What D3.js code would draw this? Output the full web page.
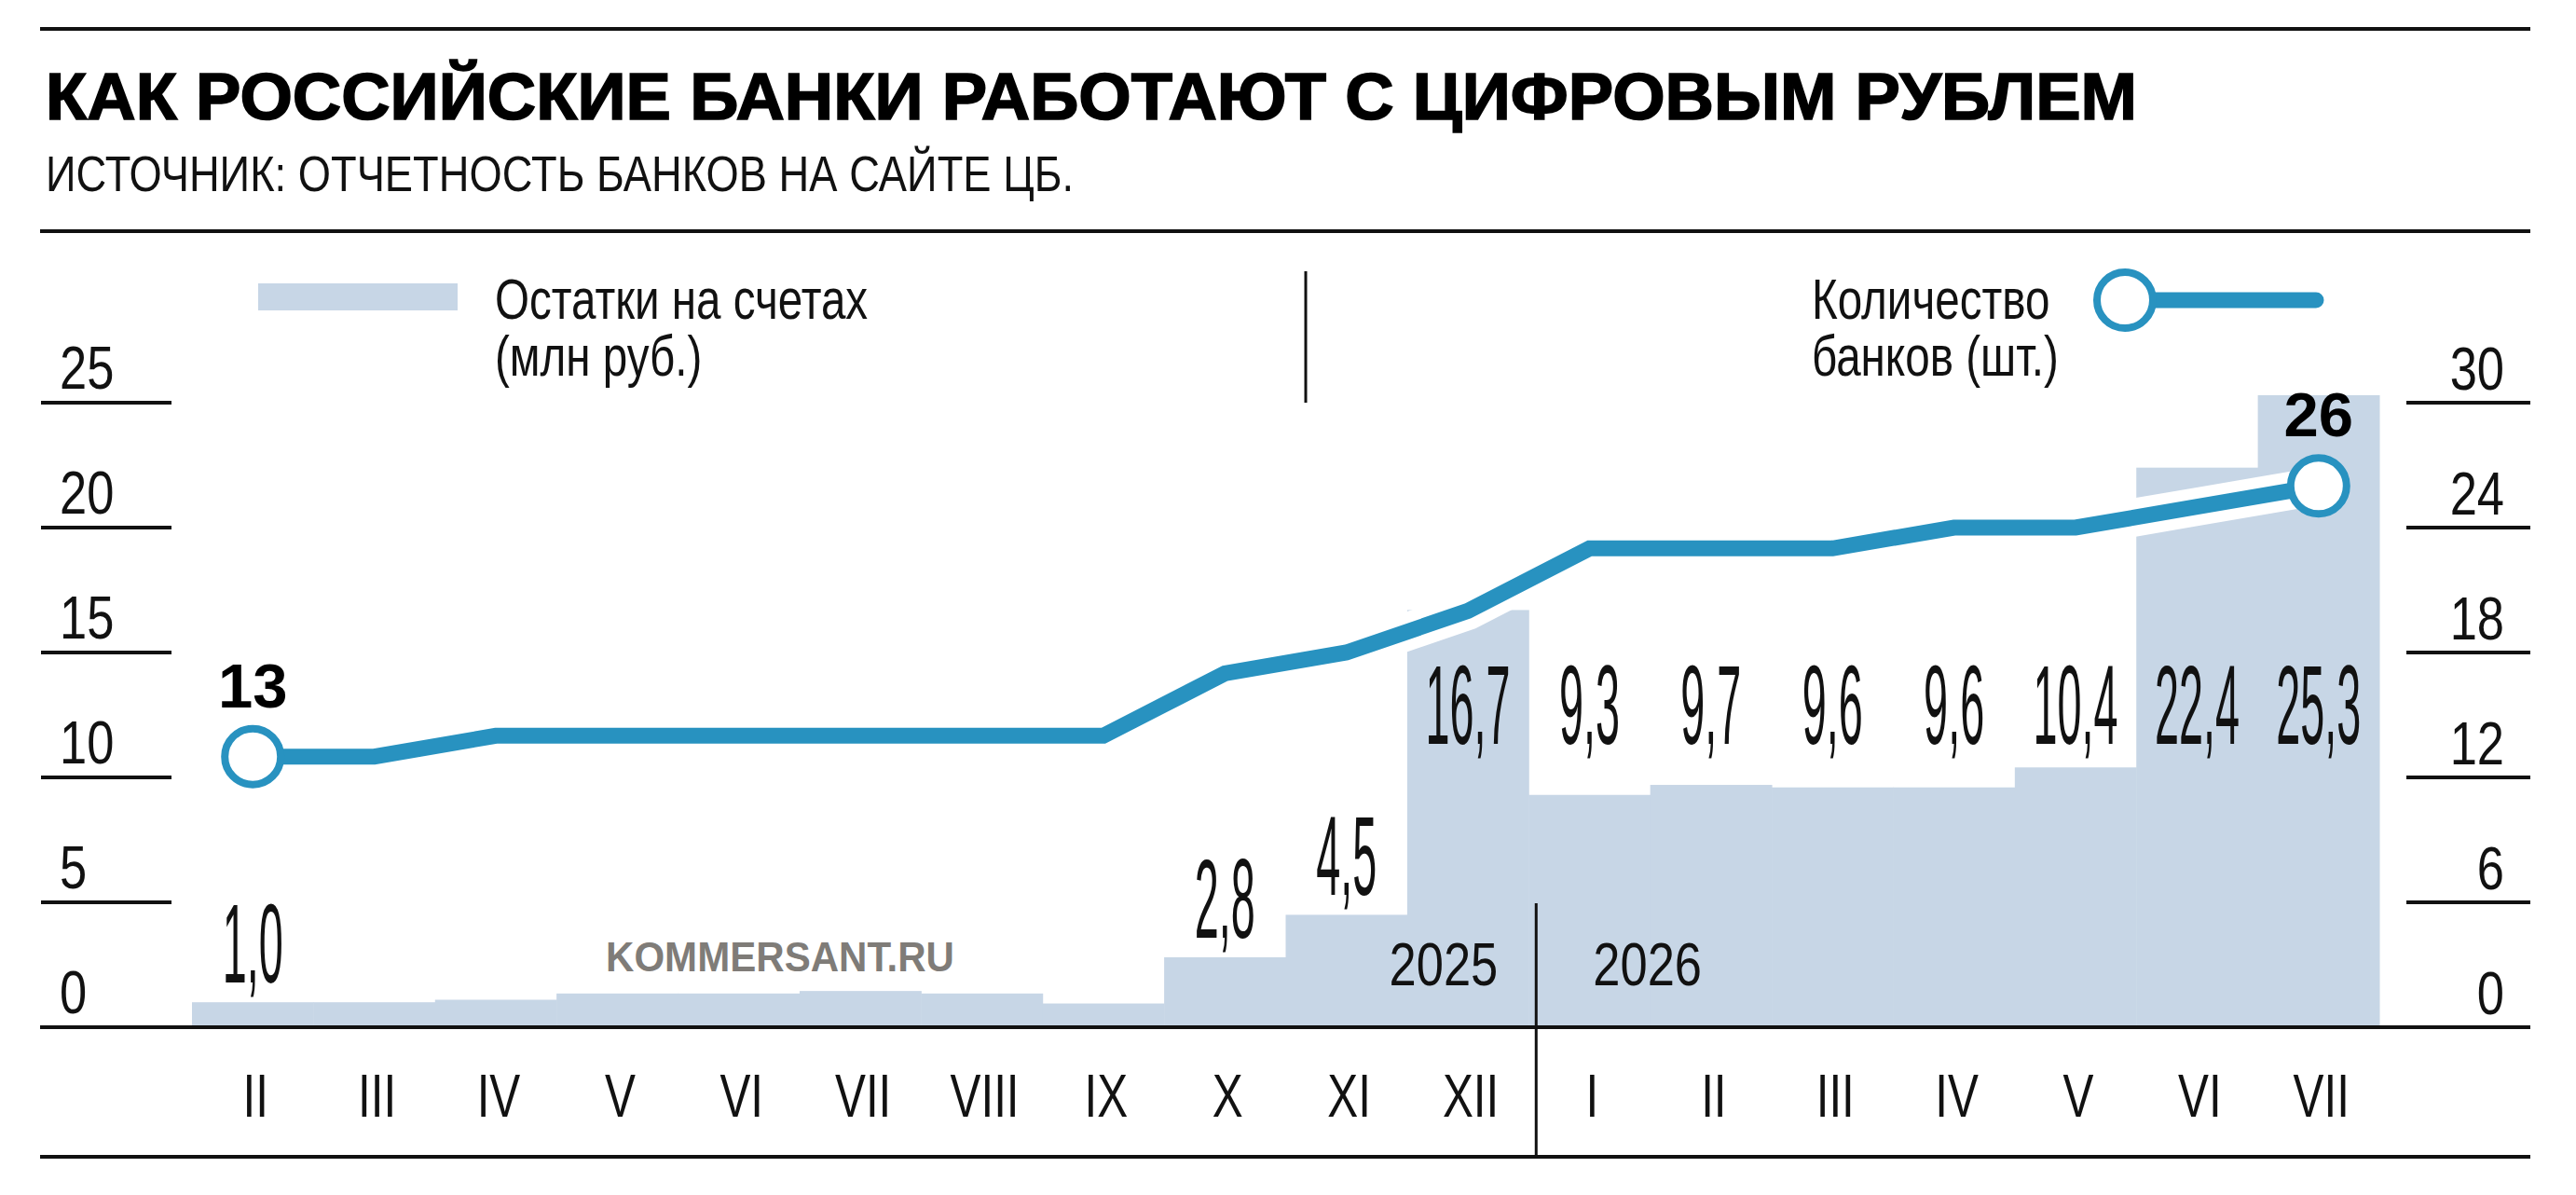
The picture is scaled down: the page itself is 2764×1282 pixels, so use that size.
<!DOCTYPE html>
<html>
<head>
<meta charset="utf-8">
<script src="https://cdn.jsdelivr.net/npm/d3@7"></script>
<style>
  body { margin: 0; background: #fff; }
  svg { display: block; font-family: 'Liberation Sans', Arial, sans-serif; }
</style>
</head>
<body>
<svg id="chart"></svg>
<script>
// data
const months = ['II','III','IV','V','VI','VII','VIII','IX','X','XI','XII','I','II','III','IV','V','VI','VII'];
const balances = [1.0, 1.0, 1.1, 1.35, 1.35, 1.45, 1.35, 0.95, 2.8, 4.5, 16.7, 9.3, 9.7, 9.6, 9.6, 10.4, 22.4, 25.3];
const balanceShown = [1,0,0,0,0,0,0,0,1,1,1,1,1,1,1,1,1,1];
const banks = [13, 13, 14, 14, 14, 14, 14, 14, 17, 18, 20, 23, 23, 23, 24, 24, 25, 26];
const leftTicks = [0, 5, 10, 15, 20, 25];
const rightTicks = [0, 6, 12, 18, 24, 30];
const years = ['2025', '2026'];

const W = 2764, H = 1282;
const BAR = '#c7d6e6', LINE = '#2892c0';

const svg = d3.select('#chart').attr('width', W).attr('height', H);

const x = d3.scaleBand().domain(d3.range(months.length)).range([206, 2553]).padding(0);
const yL = d3.scaleLinear().domain([0, 25]).range([1102, 432]);
const yR = d3.scaleLinear().domain([0, 30]).range([1102, 432]);
const cx = i => x(i) + x.bandwidth() / 2;
const comma = v => v.toFixed(1).replace('.', ',');

// condensed text: regular face squeezed horizontally
function ctext(g, tx, ty, txt, size, sx, anchor) {
  return g.append('text')
    .attr('transform', `translate(${tx},${ty}) scale(${sx},1)`)
    .attr('text-anchor', anchor || 'middle')
    .attr('font-size', size)
    .attr('fill', '#111')
    .text(txt);
}

// two-line legend caption kept in one text element
function legendText(g, tx, ty, lines) {
  const t = g.append('text')
    .attr('transform', `translate(${tx},${ty}) scale(0.78,1)`)
    .attr('font-size', 61)
    .attr('fill', '#111');
  lines.forEach((s, k) => t.append('tspan').attr('x', 0).attr('y', k * 61).text(s));
}

// rules
[31, 248, 1241].forEach(y => {
  svg.append('line').attr('x1', 43).attr('x2', 2715).attr('y1', y).attr('y2', y)
    .attr('stroke', '#111').attr('stroke-width', 4);
});

// title + source
svg.append('text').attr('x', 49).attr('y', 128)
  .attr('font-size', 70).attr('font-weight', 900).attr('fill', '#000')
  .attr('stroke', '#000').attr('stroke-width', 1.6)
  .attr('textLength', 2244).attr('lengthAdjust', 'spacingAndGlyphs')
  .text('КАК РОССИЙСКИЕ БАНКИ РАБОТАЮТ С ЦИФРОВЫМ РУБЛЕМ');
svg.append('text').attr('x', 49).attr('y', 205)
  .attr('font-size', 53).attr('fill', '#111')
  .attr('textLength', 1103).attr('lengthAdjust', 'spacingAndGlyphs')
  .text('ИСТОЧНИК: ОТЧЕТНОСТЬ БАНКОВ НА САЙТЕ ЦБ.');

// legend
const leg = svg.append('g');
leg.append('rect').attr('x', 277).attr('y', 304).attr('width', 214).attr('height', 29).attr('fill', BAR);
legendText(leg, 531, 342, ['Остатки на счетах', '(млн руб.)']);
leg.append('line').attr('x1', 1401).attr('x2', 1401).attr('y1', 291).attr('y2', 432)
  .attr('stroke', '#111').attr('stroke-width', 3);
legendText(leg, 1944, 342, ['Количество', 'банков (шт.)']);
leg.append('line').attr('x1', 2280).attr('x2', 2485).attr('y1', 322).attr('y2', 322)
  .attr('stroke', LINE).attr('stroke-width', 17).attr('stroke-linecap', 'round');
leg.append('circle').attr('cx', 2280).attr('cy', 322).attr('r', 30)
  .attr('fill', '#fff').attr('stroke', LINE).attr('stroke-width', 8);

// bars (step area)
svg.append('g').selectAll('rect')
  .data(balances)
  .join('rect')
    .attr('x', (d, i) => x(i))
    .attr('y', d => yL(d))
    .attr('width', x.bandwidth() + 0.5)
    .attr('height', d => yL(0) - yL(d))
    .attr('fill', BAR);

// watermark
svg.append('text').attr('x', 650).attr('y', 1042)
  .attr('font-size', 45).attr('font-weight', 700).attr('fill', '#7f7c78')
  .attr('textLength', 374).attr('lengthAdjust', 'spacingAndGlyphs')
  .text('KOMMERSANT.RU');

// year split
const splitX = x(11) + 8;
svg.append('line').attr('x1', splitX).attr('x2', splitX).attr('y1', 969).attr('y2', 1241)
  .attr('stroke', '#111').attr('stroke-width', 3);
ctext(svg, splitX - 41, 1057, years[0], 64, 0.82, 'end');
ctext(svg, splitX + 61, 1057, years[1], 64, 0.82, 'start');

// left axis
const axL = svg.append('g');
axL.selectAll('line').data(leftTicks.filter(t => t > 0)).join('line')
  .attr('x1', 44).attr('x2', 184).attr('y1', d => yL(d)).attr('y2', d => yL(d))
  .attr('stroke', '#111').attr('stroke-width', 4);
leftTicks.forEach(t => ctext(axL, 64, yL(t) - 15, t, 64, 0.82, 'start'));

// right axis
const axR = svg.append('g');
axR.selectAll('line').data(rightTicks.filter(t => t > 0)).join('line')
  .attr('x1', 2582).attr('x2', 2715).attr('y1', d => yR(d)).attr('y2', d => yR(d))
  .attr('stroke', '#111').attr('stroke-width', 4);
rightTicks.forEach(t => ctext(axR, 2687, yR(t) - 14, t, 64, 0.82, 'end'));

// baseline
svg.append('line').attr('x1', 43).attr('x2', 2715).attr('y1', yL(0)).attr('y2', yL(0))
  .attr('stroke', '#111').attr('stroke-width', 4);

// month labels via bottom axis
const xAxis = d3.axisBottom(x).tickSize(0).tickFormat(i => months[i]);
const xg = svg.append('g').attr('transform', 'translate(3,1198)').call(xAxis);
xg.select('.domain').remove();
xg.selectAll('text')
  .attr('y', 0).attr('dy', 0)
  .attr('font-size', 65).attr('font-family', "'Liberation Sans', Arial, sans-serif")
  .attr('fill', '#111')
  .attr('transform', 'scale(0.76,1)');

// bank count line with white casing
const line = d3.line().x((d, i) => cx(i)).y(d => yR(d));
svg.append('path').datum(banks).attr('d', line)
  .attr('fill', 'none').attr('stroke', '#fff').attr('stroke-width', 41).attr('stroke-linejoin', 'miter');
svg.append('path').datum(banks).attr('d', line)
  .attr('fill', 'none').attr('stroke', LINE).attr('stroke-width', 17).attr('stroke-linejoin', 'miter');

const ends = [0, banks.length - 1];
svg.selectAll('.end-dot').data(ends).join('circle')
  .attr('class', 'end-dot')
  .attr('cx', i => cx(i)).attr('cy', i => yR(banks[i])).attr('r', 30)
  .attr('fill', '#fff').attr('stroke', LINE).attr('stroke-width', 8);
svg.selectAll('.end-lbl').data(ends).join('text')
  .attr('class', 'end-lbl')
  .attr('x', i => cx(i)).attr('y', i => yR(banks[i]) - 53)
  .attr('text-anchor', 'middle').attr('font-size', 67).attr('font-weight', 700).attr('fill', '#000')
  .text(i => banks[i]);

// balance value labels
const vl = svg.append('g');
balances.forEach((v, i) => {
  if (!balanceShown[i]) return;
  const ty = v > 8 ? 798 : yL(v) - 21;
  ctext(vl, cx(i), ty, comma(v), 120, 0.39, 'middle');
});
</script>
</body>
</html>
